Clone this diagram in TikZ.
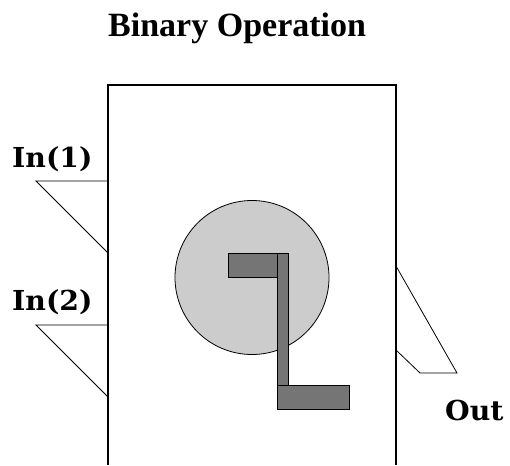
\documentclass[tikz,border=0pt]{standalone}
\usepackage{fontspec}
\newfontfamily\titlefont{Liberation Serif}
\newfontfamily\portfont[FakeStretch=1.03]{DejaVu Serif}
\begin{document}
\begin{tikzpicture}[x=1pt,y=-1pt,
  outline/.style={draw=black,line width=1.1pt},
  wire/.style={draw=black,line width=0.8pt,line join=miter},
  hub/.style={draw=black,line width=0.8pt,fill=black!20},
  crank/.style={draw=black,line width=0.9pt,fill=black!54},
  portlabel/.style={inner sep=0pt,anchor=base west,font=\portfont\bfseries\fontsize{27.5}{32}\selectfont},
  titlelabel/.style={inner sep=0pt,anchor=base west,font=\titlefont\bfseries\fontsize{34}{40}\selectfont}]
\useasboundingbox (0,0) rectangle (510,465);

% title
\node[titlelabel] (title) at (108,37) {Binary Operation};

% block outline (open at the bottom)
\coordinate (bl) at (108,465);
\coordinate (tl) at (108,85);
\coordinate (tr) at (396,85);
\coordinate (br) at (396,465);
\draw[outline] (bl) -- (tl) -- (tr) -- (br);

% input ports
\coordinate (in1a) at (36,181);
\coordinate (in1b) at (108,181);
\coordinate (in1c) at (108,253);
\draw[wire] (in1b) -- (in1a) -- (in1c);
\node[portlabel] (in1) at (12,167) {In(1)};

\coordinate (in2a) at (36,325);
\coordinate (in2b) at (108,325);
\coordinate (in2c) at (108,397);
\draw[wire] (in2b) -- (in2a) -- (in2c);
\node[portlabel] (in2) at (12,310) {In(2)};

% output port
\coordinate (out1) at (396,266);
\coordinate (out2) at (457,373);
\coordinate (out3) at (420,373);
\coordinate (out4) at (396,350);
\draw[wire] (out1) -- (out2) -- (out3) -- (out4);
\node[portlabel] (out) at (445,420) {Out};

% operator symbol: disc with a crank
\node[hub,circle,minimum size=154pt,inner sep=0pt] (disc) at (252,277.5) {};
\draw[crank] (228,253) rectangle (277,277);
\draw[crank] (277,253) rectangle (288,385);
\draw[crank] (277,385) rectangle (349,409);
\end{tikzpicture}
\end{document}
